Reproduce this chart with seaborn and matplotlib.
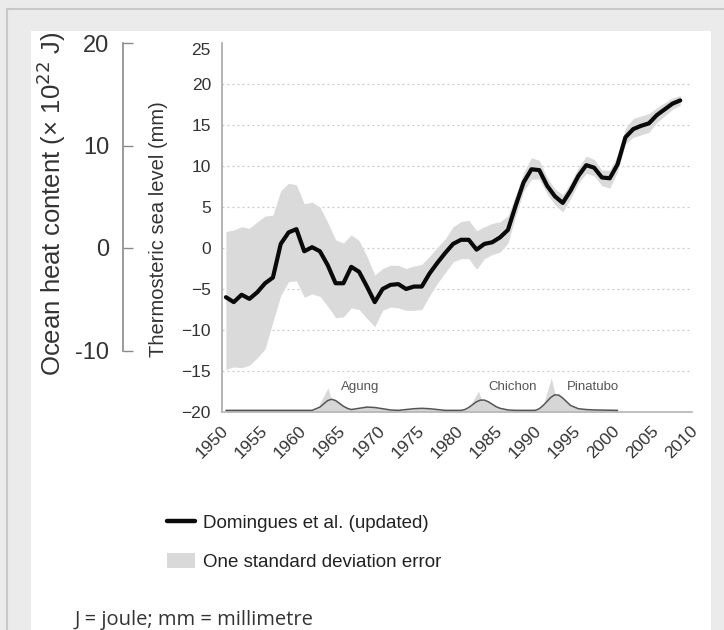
import matplotlib
matplotlib.use("Agg")
import matplotlib.pyplot as plt
import seaborn as sns
import pandas as pd
from matplotlib.patches import Rectangle, Patch, Polygon
from matplotlib.lines import Line2D
from matplotlib.transforms import ScaledTranslation

# ---------------- data ----------------
years = list(range(1950, 2009))
sea_level = [-6.0, -6.6, -5.7, -6.2, -5.4, -4.3, -3.6, 0.5, 1.9, 2.3,
             -0.4, 0.1, -0.4, -2.1, -4.3, -4.3, -2.3, -2.9, -4.7, -6.6,
             -5.0, -4.5, -4.4, -5.0, -4.7, -4.7, -3.1, -1.8, -0.6, 0.5,
             1.0, 1.0, -0.2, 0.5, 0.7, 1.3, 2.2, 5.2, 8.0, 9.6,
             9.5, 7.6, 6.3, 5.5, 7.0, 8.8, 10.1, 9.8, 8.6, 8.5,
             10.2, 13.5, 14.5, 14.9, 15.2, 16.2, 16.9, 17.6, 18.0]
upper = [2.0, 2.2, 2.6, 2.4, 3.2, 3.9, 4.0, 7.0, 7.9, 7.7,
         5.4, 5.6, 5.0, 3.1, 1.0, 0.6, 1.6, 0.9, -1.0, -3.3,
         -2.5, -2.1, -2.1, -2.5, -2.2, -2.0, -1.0, 0.1, 1.1, 2.6,
         3.2, 3.4, 2.1, 2.6, 3.0, 3.2, 3.9, 6.5, 9.2, 11.0,
         10.7, 8.6, 7.2, 6.5, 8.0, 9.8, 11.2, 10.8, 9.5, 9.5,
         11.3, 14.6, 15.8, 16.1, 16.4, 17.1, 17.7, 18.3, 18.6]
lower = [-14.8, -14.5, -14.6, -14.3, -13.4, -12.3, -9.0, -5.8, -4.1, -4.0,
         -6.0, -5.6, -5.9, -7.1, -8.5, -8.4, -7.3, -7.5, -8.6, -9.6,
         -7.6, -7.2, -7.3, -7.6, -7.6, -7.5, -5.8, -4.3, -3.0, -1.7,
         -1.3, -1.3, -2.6, -1.3, -0.8, -0.5, 0.6, 3.9, 6.9, 8.4,
         8.4, 6.6, 5.3, 4.4, 6.0, 7.9, 9.1, 8.8, 7.6, 7.3,
         9.3, 12.7, 13.5, 13.8, 14.1, 15.3, 16.1, 16.9, 17.4]

volc_years = [1950.5, 1961.5, 1962.5, 1963, 1963.5, 1964, 1964.5, 1965, 1965.5, 1966,
              1966.5, 1967.5, 1968.5, 1969.5, 1970.5, 1971.5, 1972.5, 1973.5, 1974.5, 1975.5,
              1976.5, 1977.5, 1978.5, 1980.5, 1981, 1981.5, 1982, 1982.5, 1983, 1983.5,
              1984, 1984.5, 1985, 1985.5, 1986.5, 1987.5, 1990, 1990.5, 1991, 1991.5,
              1992, 1992.5, 1993, 1993.5, 1994, 1994.5, 1995.5, 1996.5, 1997.5, 2000.5]
volc_vals = [-19.8, -19.8, -19.4, -19.0, -18.6, -18.45, -18.6, -18.95, -19.3, -19.55,
             -19.7, -19.55, -19.4, -19.45, -19.6, -19.75, -19.8, -19.7, -19.6, -19.55,
             -19.6, -19.7, -19.8, -19.8, -19.7, -19.45, -19.1, -18.75, -18.55, -18.55,
             -18.75, -19.05, -19.35, -19.55, -19.75, -19.8, -19.8, -19.6, -19.2, -18.7,
             -18.2, -17.9, -17.95, -18.3, -18.75, -19.2, -19.6, -19.7, -19.75, -19.8]

volcano_names = ["Agung", "Chichon", "Pinatubo"]
volcano_label_x = [1967.7, 1987.1, 1997.4]
volcano_label_y = [-16.95, -16.95, -16.95]
spike_years = [[1962.4, 1963.6, 1964.0], [1981.8, 1982.8, 1983.2], [1991.2, 1992.1, 1992.6]]
spike_vals = [[-19.3, -17.1, -18.45], [-19.2, -17.5, -18.55], [-18.8, -15.9, -17.9]]

x_ticks = list(range(1950, 2011, 5))
sl_ticks = [25, 20, 15, 10, 5, 0, -5, -10, -15, -20]
ohc_ticks = [20, 10, 0, -10]
ohc_per_mm = 0.8

# ---------------- style ----------------
sns.set_theme(style="white")
plt.rcParams["font.family"] = ["Liberation Sans", "DejaVu Sans"]

W, H = 724, 630
fig = plt.figure(figsize=(W / 100, H / 100), dpi=100)
fig.patch.set_facecolor("#ebebeb")

def fx(px):
    return px / W

def fy(py):
    return 1 - py / H

# page background elements
fig.patches.append(Rectangle((fx(31), 0), fx(711) - fx(31), fy(31), transform=fig.transFigure,
                             facecolor="white", edgecolor="none", zorder=-10))
fig.add_artist(Line2D([fx(7), fx(724)], [fy(9), fy(9)], color="#c8c8c8", lw=1.5,
                      transform=fig.transFigure, zorder=-10))
fig.add_artist(Line2D([fx(7), fx(7)], [fy(9), 0], color="#c8c8c8", lw=1.5,
                      transform=fig.transFigure, zorder=-10))

ax = fig.add_axes([fx(222), fy(412), fx(692) - fx(222), fy(43) - fy(412)])
ax.set_facecolor("none")

df = pd.DataFrame({"year": [y + 0.5 for y in years], "sl": sea_level,
                   "up": upper, "lo": lower})

ax.fill_between(df["year"], df["lo"], df["up"], color="#dadada", lw=0, zorder=2)
sns.lineplot(data=df, x="year", y="sl", ax=ax, color="#0a0a0a", lw=3.0, zorder=4,
             solid_joinstyle="round", solid_capstyle="round")

# volcanic curve
ax.fill_between(volc_years, -20, volc_vals, color="#d6d6d6", lw=0, zorder=2)
for sx, sv in zip(spike_years, spike_vals):
    ax.add_patch(Polygon(list(zip(sx, sv)), closed=True, facecolor="#d9d9d9",
                         edgecolor="none", zorder=2))
sns.lineplot(x=volc_years, y=volc_vals, ax=ax, color="#555555", lw=1.1, zorder=3)
for name, lx, ly in zip(volcano_names, volcano_label_x, volcano_label_y):
    ax.text(lx, ly, name, ha="center", va="center", fontsize=9.5, color="#555555", zorder=5)

# grid
for g in sl_ticks[1:-1]:
    ax.axhline(g, color="#c8c8c8", lw=0.9, ls=(0, (1.5, 2.5)), zorder=1)

ax.set_xlim(1950, 2010)
ax.set_ylim(-20, 25)
ax.set_xticks(x_ticks)
ax.set_yticks(sl_ticks)
ax.set_xticklabels([str(t) for t in x_ticks], rotation=45, ha="right", va="top",
                   fontsize=12.5, color="#333333")
ax.set_yticklabels([str(t).replace("-", "\u2212") for t in sl_ticks], fontsize=12.5,
                   color="#333333")
ax.tick_params(axis="both", length=0)
ax.tick_params(axis="x", pad=8)
ax.tick_params(axis="y", pad=8)
off = ScaledTranslation(9 / 100, 0, fig.dpi_scale_trans)
for lab in ax.get_xticklabels():
    lab.set_transform(lab.get_transform() + off)
top_off = ScaledTranslation(0, -6 / 100, fig.dpi_scale_trans)
ax.get_yticklabels()[0].set_transform(ax.get_yticklabels()[0].get_transform() + top_off)

for s in ["top", "right"]:
    ax.spines[s].set_visible(False)
ax.spines["left"].set_color("#a8a8a8")
ax.spines["left"].set_linewidth(1.2)
ax.spines["bottom"].set_color("#b5b5b5")
ax.spines["bottom"].set_linewidth(1.2)
ax.set_xlabel("")
ax.set_ylabel("Thermosteric sea level (mm)", fontsize=14.5, color="#333333")
ax.yaxis.set_label_coords((168 - 222) / 470, (630 - 229 - 218) / 369)

# ocean heat content axis
ax2 = ax.twinx()
ax2.set_ylim(-20 * ohc_per_mm, 25 * ohc_per_mm)
ax2.yaxis.set_label_position("left")
ax2.yaxis.tick_left()
for s in ["top", "right", "bottom"]:
    ax2.spines[s].set_visible(False)
ax2.spines["left"].set_visible(True)
ax2.spines["left"].set_position(("outward", (222 - 123) * 0.72))
ax2.spines["left"].set_bounds(-10, 20)
ax2.spines["left"].set_color("#8a8a8a")
ax2.spines["left"].set_linewidth(1.2)
ax2.set_yticks(ohc_ticks)
ax2.set_yticklabels([str(t) for t in ohc_ticks], fontsize=17, color="#333333")
ax2.tick_params(axis="y", direction="in", length=7, width=1.0, color="#8a8a8a", pad=10)
ax2.set_ylabel("Ocean heat content (\u00d7 10$^{22}$ J)", fontsize=18.5, color="#333333")
ax2.yaxis.set_label_coords((68 - 222) / 470, (630 - 204 - 218) / 369)
ax2.grid(False)
ax.grid(False)

# legend
handles = [Line2D([], [], color="#0a0a0a", lw=3.2),
           Patch(facecolor="#d9d9d9", edgecolor="none")]
labels = ["Domingues et al. (updated)", "One standard deviation error"]
fig.legend(handles, labels, loc="upper left", bbox_to_anchor=(fx(158), fy(505)),
           frameon=False, fontsize=13.5, borderpad=0, handlelength=1.45,
           handleheight=0.85, handletextpad=0.45, labelspacing=1.1,
           labelcolor="#222222")

fig.text(fx(75), fy(620), "J = joule; mm = millimetre", fontsize=14.5, color="#333333",
         va="center", ha="left", family=["Open Sans", "DejaVu Sans"])

fig.savefig("out.png", dpi=100, facecolor=fig.get_facecolor())
